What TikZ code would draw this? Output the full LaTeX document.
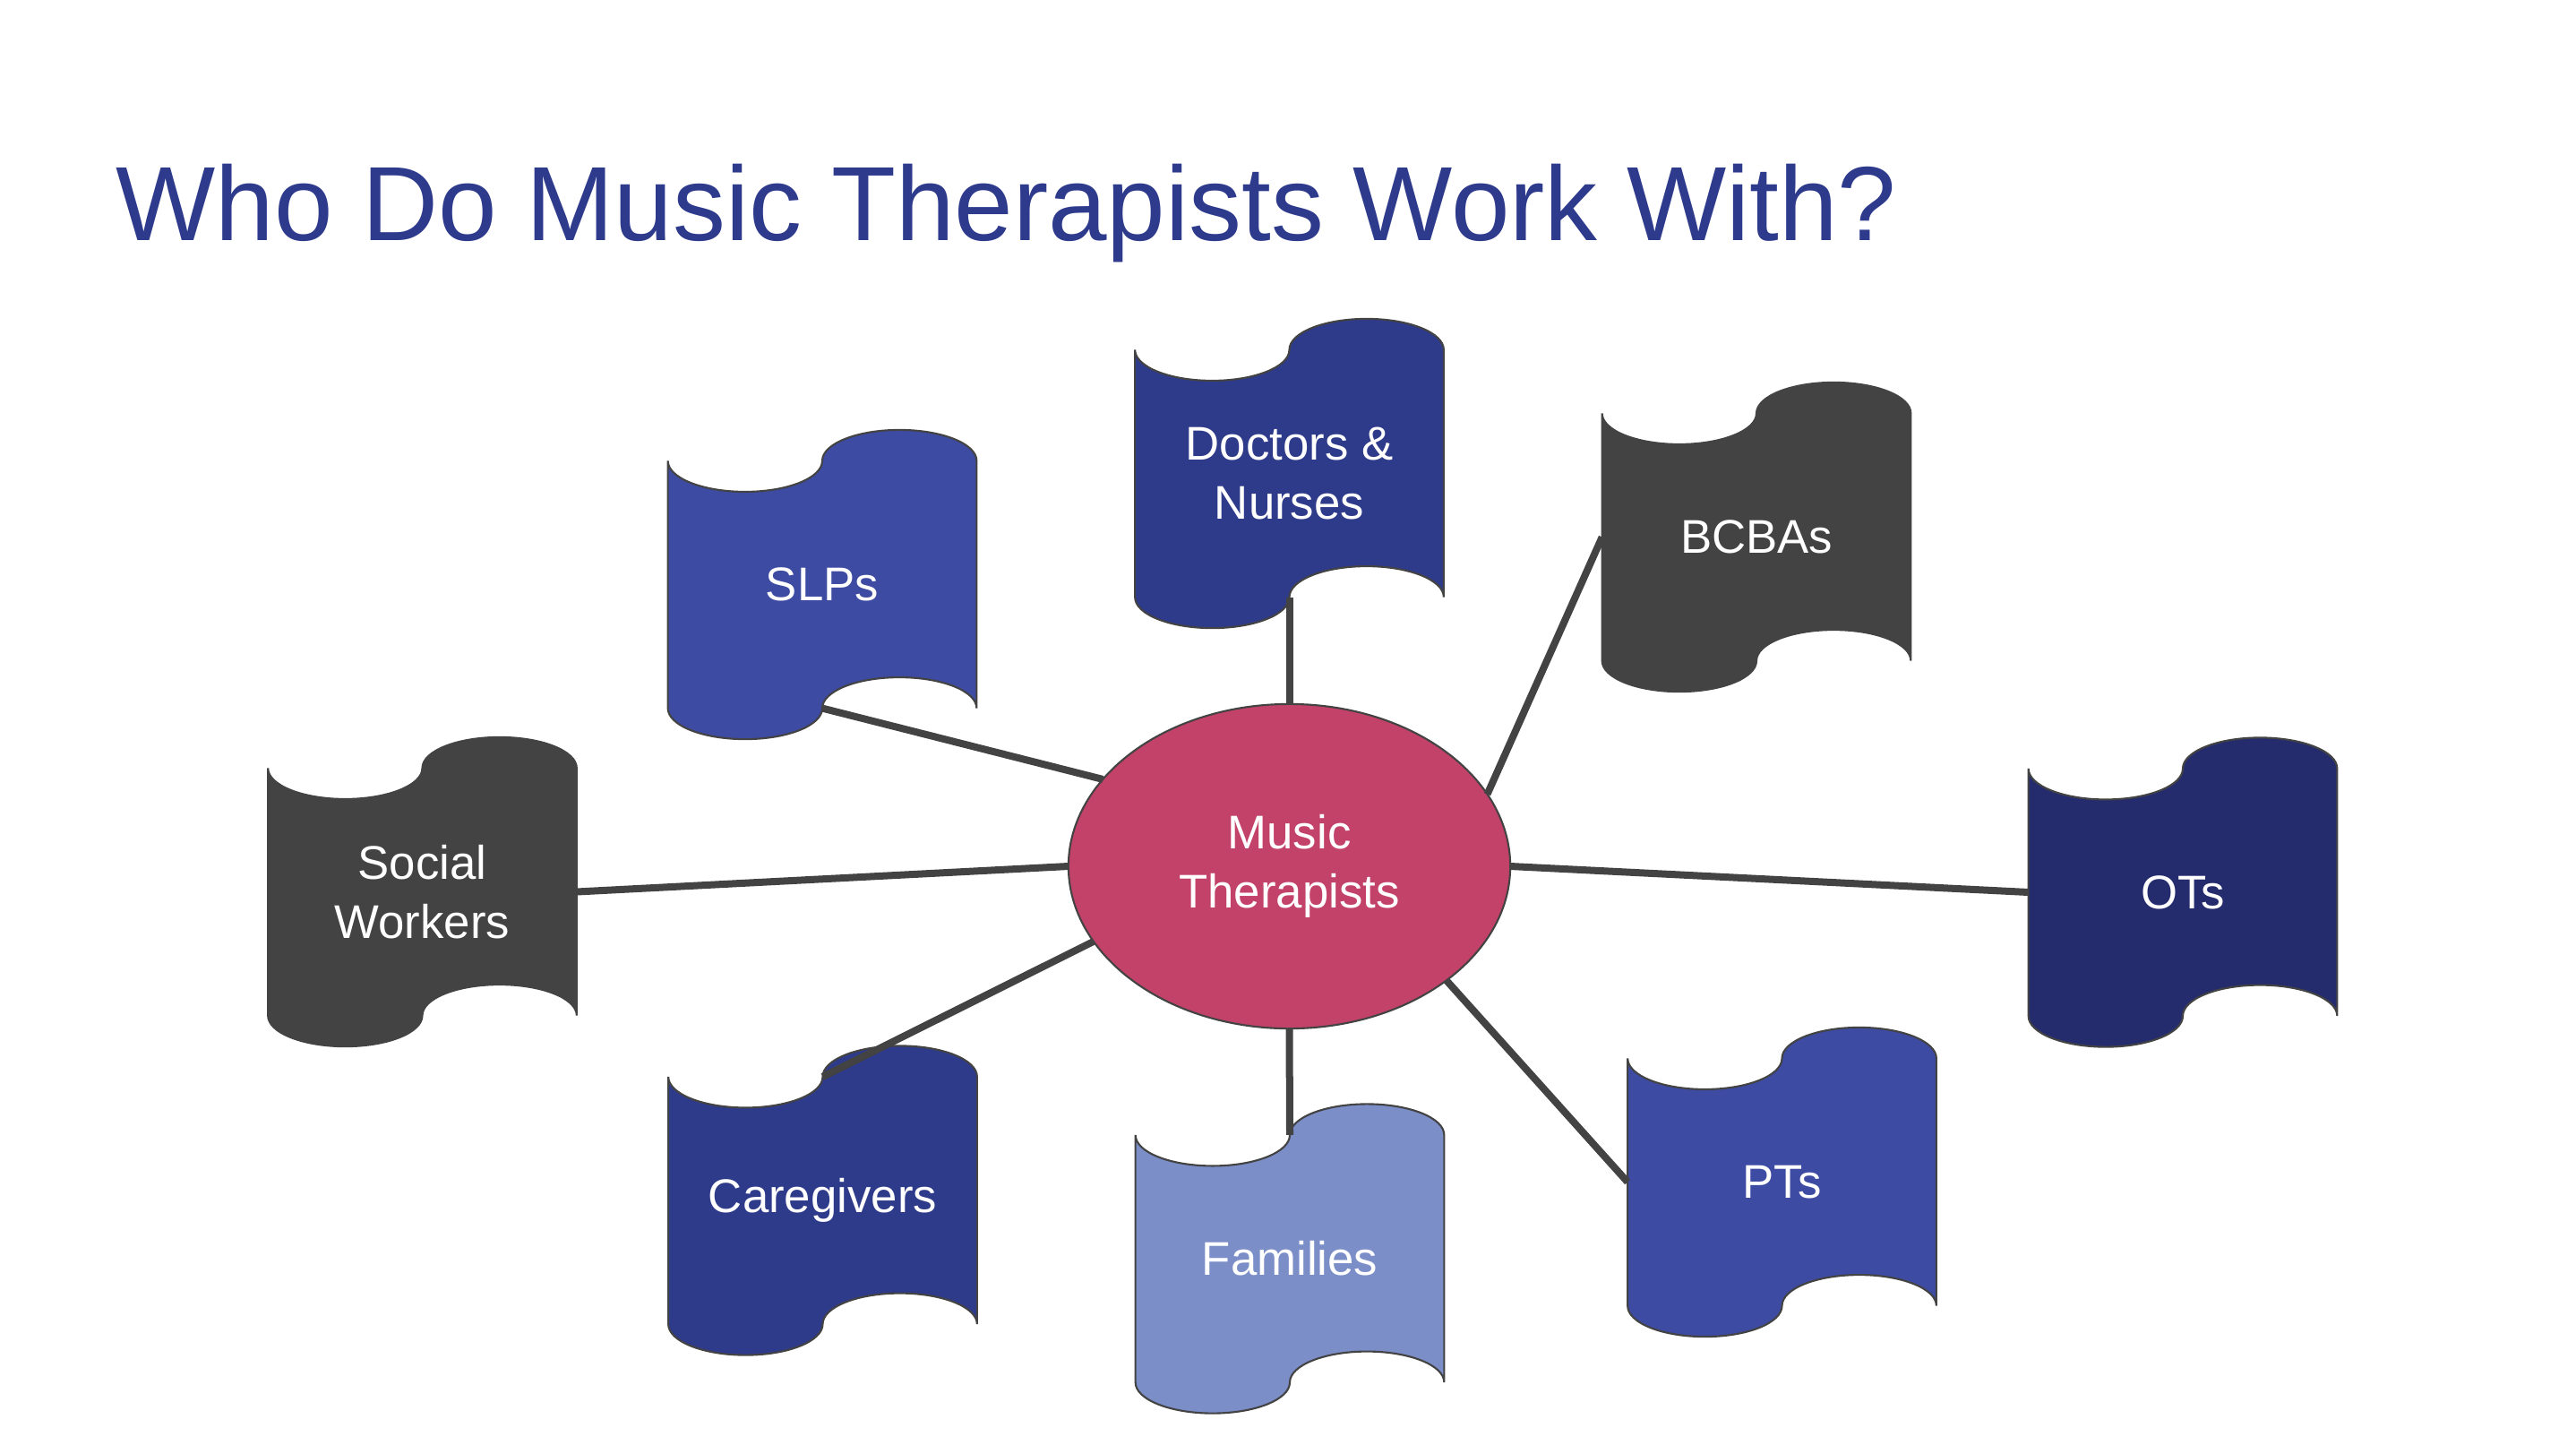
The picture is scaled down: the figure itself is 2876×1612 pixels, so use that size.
\documentclass[tikz,border=0pt]{standalone}
\usepackage{fontspec}
\setmainfont{Liberation Sans}
\usepackage{tikz}
\usetikzlibrary{shapes.geometric,backgrounds}

\definecolor{titleblue}{HTML}{2E3A8C}
\definecolor{midblue}{HTML}{3D4BA3}
\definecolor{deepblue}{HTML}{2E3A8A}
\definecolor{navyblue}{HTML}{242C6E}
\definecolor{paleblue}{HTML}{7B8EC8}
\definecolor{linegray}{HTML}{434343}
\definecolor{rosered}{HTML}{C2426A}

\tikzset{
  tape/.style={rectangle, minimum width=3.445cm, minimum height=3.45cm,
    inner sep=0pt, outer sep=0pt, text=white, align=center,
    font=\fontsize{15}{18.8}\selectfont},
  tape outline/.style={draw=linegray, line width=0.6pt, fill=#1},
  link/.style={draw=linegray, line width=0.08cm},
}

\begin{document}
\begin{tikzpicture}[x=0.01cm, y=-0.01cm]
      \useasboundingbox (0,0) rectangle (2876,1612);
      \node[anchor=base west, inner sep=0pt, text=titleblue,
            font=\fontsize{33.5}{40}\selectfont] (title) at (129,268)
            {Who Do Music Therapists Work With?};
      \node[ellipse, draw=linegray, line width=0.6pt, fill=rosered, outer sep=0pt,
            minimum width=4.93cm, minimum height=3.62cm, inner sep=0pt,
            text=white, align=center, font=\fontsize{15}{18.8}\selectfont]
            (mt) at (1439.5,967) {Music\\Therapists};
      \node[tape] (slp)  at (918,652.5)    {SLPs};
      \node[tape] (doc)  at (1439.5,528.5) {Doctors \&\\Nurses};
      \node[tape] (bcba) at (1961,599.5)   {BCBAs};
      \node[tape] (sw)   at (471.5,995.5)  {Social\\Workers};
      \node[tape] (ot)   at (2437,996)     {OTs};
      \node[tape] (cg)   at (918.5,1340)   {Caregivers};
      \node[tape] (fam)  at (1440,1405)    {Families};
      \node[tape] (pt)   at (1989.5,1319.5) {PTs};
      % wavy flag outlines sit behind the labels
      \begin{scope}[on background layer]
        \foreach \n/\c in {slp/midblue, doc/deepblue, bcba/linegray, sw/linegray,
                           ot/navyblue, cg/deepblue, fam/paleblue, pt/midblue}
          \draw[tape outline=\c] ([yshift=-3.45mm]\n.north west)
              arc[start angle=180, end angle=360, x radius=8.6125mm, y radius=3.45mm]
              arc[start angle=180, end angle=0, x radius=8.6125mm, y radius=3.45mm]
              -- ([yshift=3.45mm]\n.south east)
              arc[start angle=0, end angle=180, x radius=8.6125mm, y radius=3.45mm]
              arc[start angle=0, end angle=-180, x radius=8.6125mm, y radius=3.45mm]
              -- cycle;
      \end{scope}
      % connection points in the middle of the wavy edges
      \foreach \n in {slp, doc, cg, fam} {
        \coordinate (\n-top) at ([yshift=-3.45mm]\n.north);
        \coordinate (\n-bot) at ([yshift=3.45mm]\n.south);
      }
      \draw[link] (mt.155)   -- (slp-bot);
      \draw[link] (mt.north) -- (doc-bot);
      \draw[link] (mt.20)    -- (bcba.west);
      \draw[link] (mt.west)  -- (sw.east);
      \draw[link] (mt.east)  -- (ot.west);
      \draw[link] (mt.201)   -- (cg-top);
      \draw[link] (mt.south) -- (fam-top);
      \draw[link] (mt.-36)   -- (pt.west);
\end{tikzpicture}
\end{document}
